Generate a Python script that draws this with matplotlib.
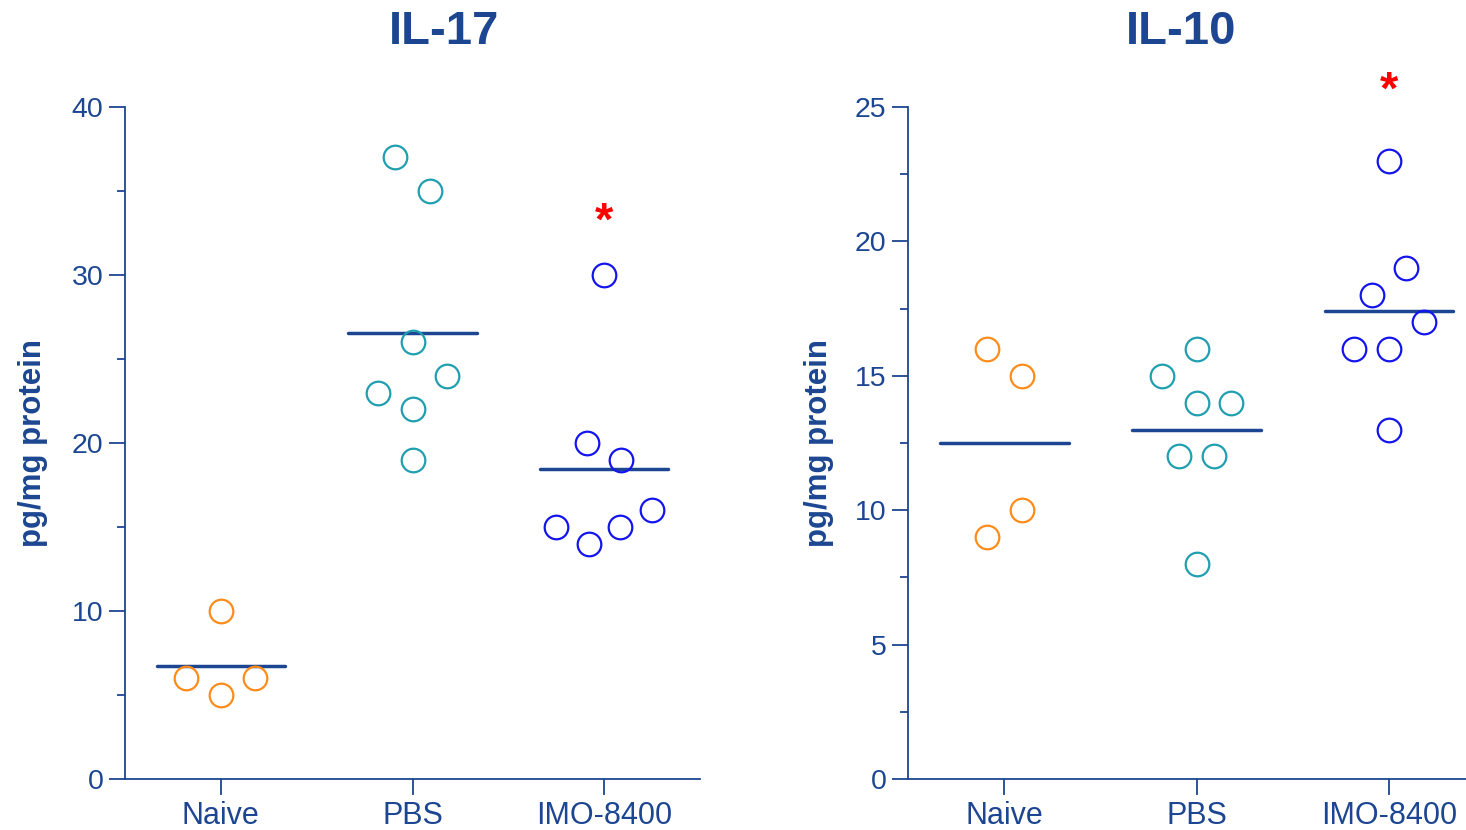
import numpy as np
import matplotlib.pyplot as plt

plt.rcParams['font.family'] = ['Liberation Sans', 'DejaVu Sans']

navy = '#1C4691'
group_colors = ['#FF8C1A', '#1F9FB0', '#1414EE']
groups = ['Naive', 'PBS', 'IMO-8400']

# IL-17 values (pg/mg protein) and horizontal jitter used in the dot plot
il17_vals = [[10, 6, 5, 6],
             [37, 35, 26, 24, 23, 22, 19],
             [30, 20, 19, 16, 15, 15, 14]]
il17_jit = [[0, -0.18, 0, 0.18],
            [-0.09, 0.09, 0, 0.18, -0.18, 0, 0],
            [0, -0.09, 0.09, 0.25, -0.25, 0.08, -0.08]]

# IL-10 values
il10_vals = [[16, 15, 10, 9],
             [16, 15, 14, 14, 12, 12, 8],
             [23, 19, 18, 17, 16, 16, 13]]
il10_jit = [[-0.09, 0.09, 0.09, -0.09],
            [0, -0.18, 0, 0.18, -0.09, 0.09, 0],
            [0, 0.09, -0.09, 0.18, -0.18, 0, 0]]

W, H = 1466, 830
fig = plt.figure(figsize=(W / 100, H / 100), dpi=100)
ax1 = fig.add_axes([125 / W, 1 - 779 / H, 575 / W, 672 / H])
ax2 = fig.add_axes([908 / W, 1 - 779 / H, 558 / W, 672 / H])


def panel(ax, vals, jit, ymax, major, star_y, xmax):
    for i, (v, j) in enumerate(zip(vals, jit)):
        ax.plot(i + np.array(j), v, 'o', ms=17, mfc='none', mec=group_colors[i],
                mew=1.6, clip_on=False, zorder=3)
        ax.plot([i - 0.335, i + 0.335], [np.mean(v)] * 2, color=navy, lw=2.5,
                solid_capstyle='round', zorder=2)
    ax.text(2, star_y, '*', color='red', fontsize=34, fontweight='bold',
            ha='center', va='center')
    ax.set_xlim(-0.5, xmax)
    ax.set_ylim(0, ymax)
    ax.set_yticks(np.arange(0, ymax + 0.1, major))
    ax.set_yticks(np.arange(major / 2, ymax, major), minor=True)
    ax.set_xticks(range(3))
    ax.set_xticklabels(groups, fontsize=22)
    for s in ['top', 'right']:
        ax.spines[s].set_visible(False)
    for s in ['left', 'bottom']:
        ax.spines[s].set_color(navy)
        ax.spines[s].set_linewidth(1.3)
    ax.tick_params(axis='both', which='major', length=11.5, width=1.3, color=navy,
                   labelcolor=navy)
    ax.tick_params(axis='y', labelsize=20.5, pad=4)
    ax.tick_params(axis='x', pad=4.5)
    ax.tick_params(axis='y', which='minor', length=5.8, width=1.3, color=navy)
    ax.tick_params(axis='x', which='minor', bottom=False)


panel(ax1, il17_vals, il17_jit, 40, 10, 33.1, 2.5)
panel(ax2, il10_vals, il10_jit, 25, 5, 25.55, 2.4)

fig.text(444 / W, 1 - 32 / H, 'IL-17', color=navy, fontsize=34, fontweight='bold',
         ha='center', va='center')
fig.text(1181 / W, 1 - 32 / H, 'IL-10', color=navy, fontsize=34, fontweight='bold',
         ha='center', va='center')
fig.text(33 / W, 1 - 443 / H, 'pg/mg protein', color=navy, fontsize=22.5,
         fontweight='bold', rotation=90, ha='center', va='center')
fig.text(819 / W, 1 - 443 / H, 'pg/mg protein', color=navy, fontsize=22.5,
         fontweight='bold', rotation=90, ha='center', va='center')

fig.savefig('out.png', dpi=100)
